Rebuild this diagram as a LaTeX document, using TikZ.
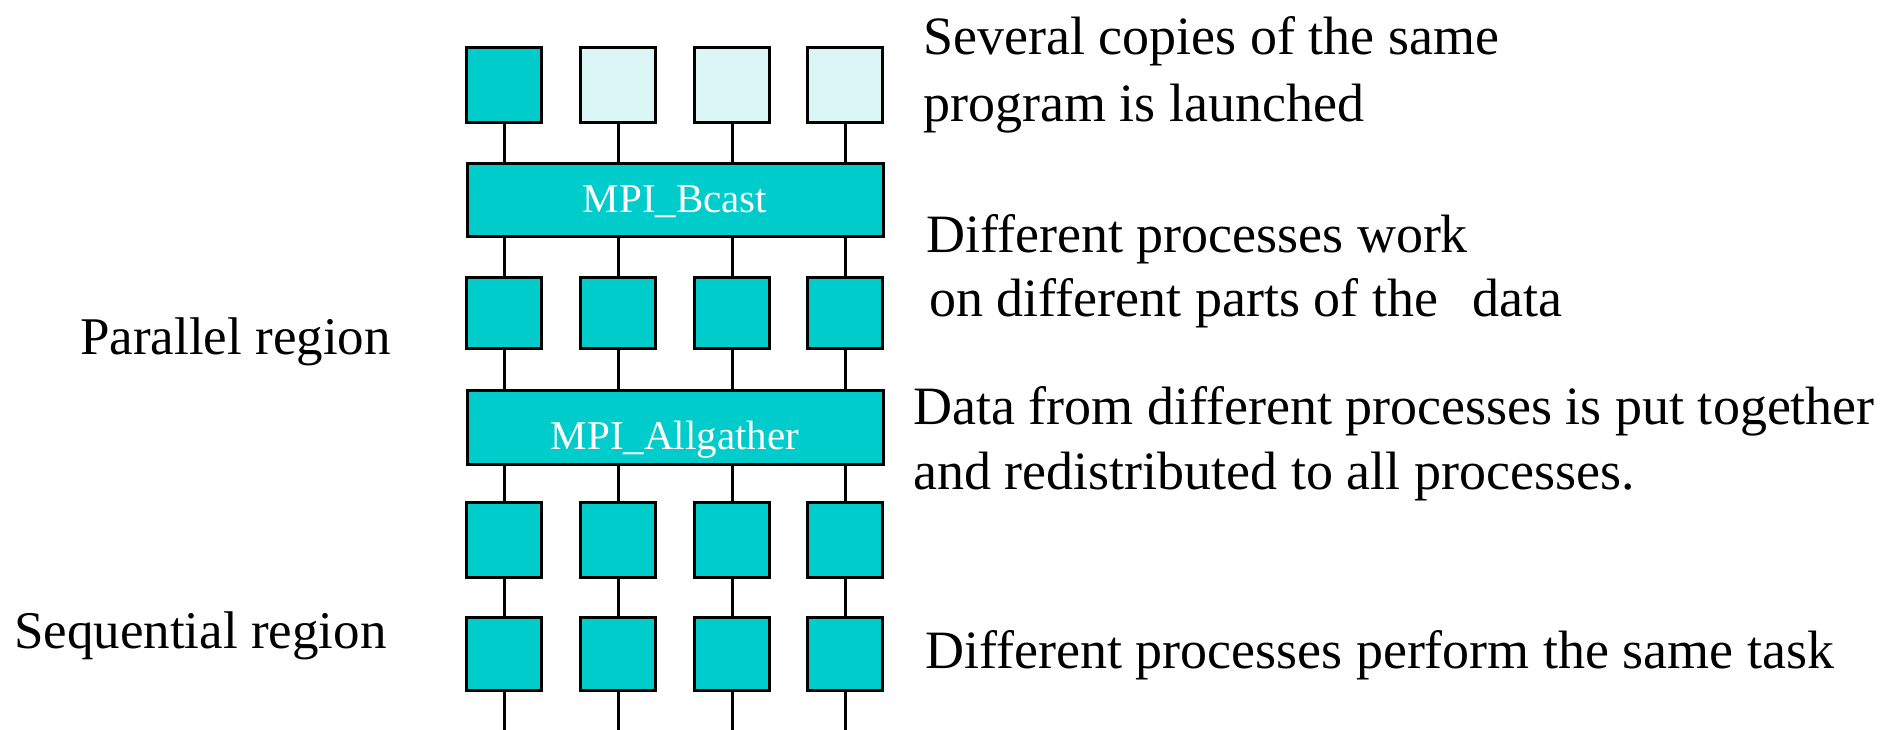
\documentclass[tikz,border=0pt]{standalone}
\usepackage{fontspec}
\setmainfont{Liberation Serif}
\definecolor{tealfill}{RGB}{0,204,204}
\definecolor{lightfill}{RGB}{218,247,246}
\begin{document}
\begin{tikzpicture}[x=1pt,y=-1pt,
  procbox/.style={draw=black, line width=3pt, fill=tealfill, minimum width=75pt, minimum height=#1, inner sep=0pt},
  procbox/.default=75pt,
  barbox/.style={draw=black, line width=3pt, fill=tealfill, minimum width=416pt, minimum height=72pt, inner sep=0pt, text=white, font=\fontsize{41}{48}\selectfont},
  conn/.style={draw=black, line width=3pt},
  lbl/.style={anchor=base west, inner sep=0pt, font=\fontsize{54}{60}\selectfont}]
\useasboundingbox (0,0) rectangle (1884,730);
\fill[white] (0,0) rectangle (1884,730);
% rows of processes
\node[procbox, fill=tealfill] (r1c1) at (504,85.5) {};
\node[procbox, fill=lightfill] (r1c2) at (618,85.5) {};
\node[procbox, fill=lightfill] (r1c3) at (732,85.5) {};
\node[procbox, fill=lightfill] (r1c4) at (845,85.5) {};
\foreach \i/\x in {1/504,2/618,3/732,4/845} {
  \node[procbox=71pt] (r2c\i) at (\x,313.3) {};
  \node[procbox] (r3c\i) at (\x,540.3) {};
  \node[procbox=73pt] (r4c\i) at (\x,654.2) {};
  \coordinate (e\i) at (\x,730);
}
% collective bars
\node[barbox, text height=28pt, text depth=2pt] (bcast) at (675,200) {MPI\_Bcast};
\node[barbox, minimum height=74pt, text height=46pt, text depth=2pt] (allg) at (675,427) {MPI\_Allgather};
% connectors
\foreach \i in {1,...,4} {
  \draw[conn] (r1c\i.south) -- (r1c\i.south |- bcast.north);
  \draw[conn] (r2c\i.north |- bcast.south) -- (r2c\i.north);
  \draw[conn] (r2c\i.south) -- (r2c\i.south |- allg.north);
  \draw[conn] (r3c\i.north |- allg.south) -- (r3c\i.north);
  \draw[conn] (r3c\i.south) -- (r4c\i.north);
  \draw[conn] (r4c\i.south) -- (e\i);
}
% texts
\node[lbl] (t1) at (923,55) {Several copies of the same};
\node[lbl] (t2) at (923,122) {program is launched};
\node[lbl] (t3) at (926,252) {Different processes work};
\node[lbl] (t4) at (929,316) {on different parts of the\hspace{34pt}data};
\node[lbl] (t5) at (913,424) {Data from different processes is put together};
\node[lbl] (t6) at (913,489) {and redistributed to all processes.};
\node[lbl] (t7) at (925,668) {Different processes perform the same task};
\node[lbl, font=\fontsize{53}{60}\selectfont] (pr) at (80,354) {Parallel region};
\node[lbl, font=\fontsize{53}{60}\selectfont] (sr) at (14,648) {Sequential region};
\end{tikzpicture}
\end{document}
